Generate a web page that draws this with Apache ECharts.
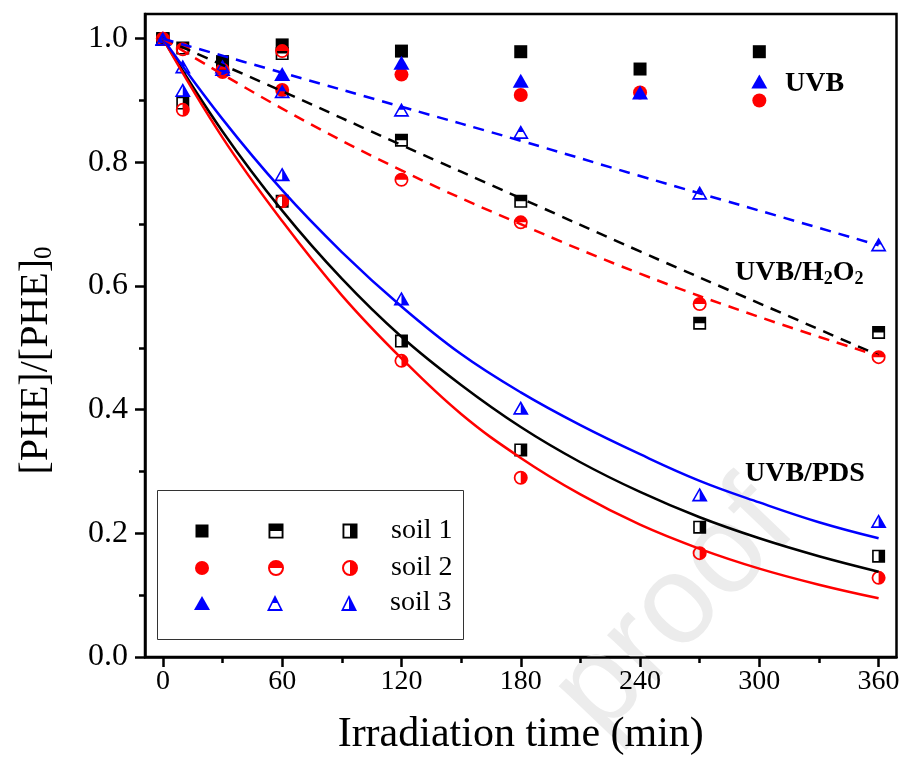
<!DOCTYPE html>
<html><head><meta charset="utf-8">
<script src="https://cdn.jsdelivr.net/npm/echarts@6/dist/echarts.min.js"></script>
<style>html,body{margin:0;padding:0;background:#fff}#c{width:908px;height:766px}</style>
</head><body><div id="c"></div>
<script>
// ---------- data ----------
const xTicks = [0, 60, 120, 180, 240, 300, 360];
const xMinorTicks = [30, 90, 150, 210, 270, 330];
const yTicks = [0, 0.2, 0.4, 0.6, 0.8, 1.0];
const yMinorTicks = [0.1, 0.3, 0.5, 0.7, 0.9];

// UVB only (filled symbols)
const tUVB = [0, 30, 60, 120, 180, 240, 300];
const uvbSoil1 = [1.0, 0.963, 0.990, 0.980, 0.979, 0.951, 0.979];
const uvbSoil2 = [1.0, 0.946, 0.917, 0.942, 0.909, 0.913, 0.900];
const uvbSoil3 = [1.0, 0.951, 0.943, 0.961, 0.932, 0.913, 0.931];

// UVB/H2O2 (top half filled)
const tH2O2 = [0, 10, 30, 60, 120, 180, 270, 360];
const h2o2Soil1 = [1.0, 0.985, 0.960, 0.976, 0.836, 0.737, 0.540, 0.525];
const h2o2Soil2 = [1.0, 0.983, 0.950, 0.980, 0.772, 0.703, 0.571, 0.485];
const h2o2Soil3 = [1.0, 0.955, 0.955, 0.915, 0.885, 0.849, 0.751, 0.667];

// UVB/PDS (right half filled)
const tPDS = [0, 10, 60, 120, 180, 270, 360];
const pdsSoil1 = [1.0, 0.896, 0.737, 0.511, 0.335, 0.210, 0.163];
const pdsSoil2 = [1.0, 0.885, 0.737, 0.479, 0.290, 0.168, 0.128];
const pdsSoil3 = [1.0, 0.917, 0.781, 0.580, 0.403, 0.263, 0.220];

// fitted curves
const tFitPDS = [0, 30, 60, 90, 120, 150, 180, 210, 240, 270, 300, 330, 360];
const fitPDS1 = [1, 0.850, 0.722, 0.612, 0.518, 0.440, 0.372, 0.315, 0.267, 0.226, 0.192, 0.163, 0.138];
const fitPDS2 = [1, 0.840, 0.705, 0.585, 0.483, 0.393, 0.322, 0.263, 0.214, 0.175, 0.143, 0.117, 0.095];
const fitPDS3 = [1, 0.870, 0.755, 0.655, 0.567, 0.490, 0.428, 0.375, 0.328, 0.285, 0.250, 0.218, 0.192];

const tFitH2O2 = [0, 60, 120, 180, 240, 300, 360];
const fitH2O2_1 = [1, 0.915, 0.828, 0.742, 0.656, 0.572, 0.488];
const fitH2O2_2 = [1, 0.887, 0.787, 0.700, 0.620, 0.550, 0.487];
const fitH2O2_3 = [1, 0.945, 0.890, 0.835, 0.778, 0.722, 0.666];

const soilLabels = ['soil 1', 'soil 2', 'soil 3'];

// ---------- styling ----------
const FONT = '"Liberation Serif", "Times New Roman", serif';
const BLACK = '#000000', RED = '#ff0000', BLUE = '#0000ff';
const SYM = {
  sqTop:  'path://M0,0L20,0L20,20L0,20Z M2.5,10L2.5,17.5L17.5,17.5L17.5,10Z',
  sqRight:'path://M0,0L20,0L20,20L0,20Z M2.5,2.5L2.5,17.5L10,17.5L10,2.5Z',
  ciTop:  'path://M10,0A10,10 0 1,1 10,20A10,10 0 1,1 10,0Z M2.5,10A7.5,7.5 0 0,0 17.5,10Z',
  ciRight:'path://M10,0A10,10 0 1,1 10,20A10,10 0 1,1 10,0Z M10,2.5A7.5,7.5 0 0,0 10,17.5Z',
  trTop:  'path://M10,0L20,20L0,20Z M7.24,10L3.49,17.5L16.51,17.5L12.76,10Z',
  trRight:'path://M10,0L20,20L0,20Z M10,4.48L3.49,17.5L10,17.5Z'
};
const pts = (t, v) => t.map((x, i) => [x, v[i]]);

const scatterDefs = [
  // [name, times, values, symbol, size, color, legend col, legend row]
  ['UVB soil 1', tUVB, uvbSoil1, 'rect', [13, 13], BLACK, 0, 0],
  ['UVB soil 2', tUVB, uvbSoil2, 'circle', [14, 14], RED, 0, 1],
  ['UVB soil 3', tUVB, uvbSoil3, 'triangle', [16, 14], BLUE, 0, 2],
  ['H2O2 soil 1', tH2O2, h2o2Soil1, SYM.sqTop, [13, 13], BLACK, 1, 0],
  ['H2O2 soil 2', tH2O2, h2o2Soil2, SYM.ciTop, [14, 14], RED, 1, 1],
  ['H2O2 soil 3', tH2O2, h2o2Soil3, SYM.trTop, [16, 14], BLUE, 1, 2],
  ['PDS soil 1', tPDS, pdsSoil1, SYM.sqRight, [13, 13], BLACK, 2, 0],
  ['PDS soil 2', tPDS, pdsSoil2, SYM.ciRight, [14, 14], RED, 2, 1],
  ['PDS soil 3', tPDS, pdsSoil3, SYM.trRight, [16, 14], BLUE, 2, 2]
];
const lineDefs = [
  [tFitPDS, fitPDS1, BLACK, 'solid'],
  [tFitPDS, fitPDS2, RED, 'solid'],
  [tFitPDS, fitPDS3, BLUE, 'solid'],
  [tFitH2O2, fitH2O2_1, BLACK, [11, 8]],
  [tFitH2O2, fitH2O2_2, RED, [11, 8]],
  [tFitH2O2, fitH2O2_3, BLUE, [11, 8]]
];

const series = [];
lineDefs.forEach((d, i) => series.push({
  type: 'line', name: 'fit' + i, data: pts(d[0], d[1]), smooth: 0.4, symbol: 'none',
  silent: true, z: 3, lineStyle: { color: d[2], width: 2.5, type: d[3] }
}));
scatterDefs.forEach(d => series.push({
  type: 'scatter', name: d[0], data: pts(d[1], d[2]), symbol: d[3], symbolSize: d[4],
  z: 2, itemStyle: { color: d[5], opacity: 1 }
}));

const legendColX = [202, 276, 350];
const legendRowY = [531, 568, 603];
const legends = scatterDefs.map(d => {
  const col = d[6], row = d[7];
  const k = col === 0 ? 1 : 1.15;
  const w = Math.round(d[4][0] * k), h = Math.round(d[4][1] * k);
  return {
    data: [d[0]], left: legendColX[col] - w / 2, top: legendRowY[row] - 15,
    itemWidth: w, itemHeight: h, padding: 0, itemGap: 0, selectedMode: false,
    formatter: () => (col === 2 ? soilLabels[row] : ' '),
    textStyle: { fontFamily: FONT, fontSize: 28, color: '#000', lineHeight: 30,
      padding: col === 2 ? [0, 0, 0, 41 - w / 2 - 5] : 0 }
  };
});

const axisLineStyle = { color: '#000', width: 2.5 };
const option = {
  backgroundColor: '#fff',
  animation: false,
  grid: { left: 145, right: 11.5, top: 14, bottom: 109, show: true, borderColor: '#000', borderWidth: 2.5 },
  xAxis: [
    { type: 'value', min: -9, max: 369, position: 'bottom',
      axisLine: { show: true, onZero: false, lineStyle: axisLineStyle },
      axisTick: { show: true, inside: false, length: 10, lineStyle: axisLineStyle, customValues: xTicks },
      axisLabel: { customValues: xTicks, fontFamily: FONT, fontSize: 28, color: '#000', margin: 11 },
      splitLine: { show: false },
      name: 'Irradiation time (min)', nameLocation: 'middle', nameGap: 57,
      nameTextStyle: { fontFamily: FONT, fontSize: 42, color: '#000' } },
    { type: 'value', min: -9, max: 369, position: 'bottom',
      axisLine: { show: false, onZero: false },
      axisTick: { show: true, inside: false, length: 6, lineStyle: axisLineStyle, customValues: xMinorTicks },
      axisLabel: { show: false }, splitLine: { show: false } }
  ],
  yAxis: [
    { type: 'value', min: 0, max: 1.04, position: 'left',
      axisLine: { show: true, onZero: false, lineStyle: axisLineStyle },
      axisTick: { show: true, inside: false, length: 10, lineStyle: axisLineStyle, customValues: yTicks },
      axisLabel: { customValues: yTicks, formatter: v => v.toFixed(1), fontFamily: FONT, fontSize: 32, color: '#000', margin: 17 },
      splitLine: { show: false },
      name: '[PHE]/[PHE]{s|0}', nameLocation: 'middle', nameGap: 88, nameRotate: 90,
      nameTextStyle: { fontFamily: FONT, fontSize: 40, color: '#000', lineHeight: 42, padding: [0, 50, 0, 0],
        rich: { s: { fontFamily: FONT, fontSize: 25, color: '#000', lineHeight: 14, verticalAlign: 'bottom' } } } },
    { type: 'value', min: 0, max: 1.04, position: 'left',
      axisLine: { show: false, onZero: false },
      axisTick: { show: true, inside: false, length: 6, lineStyle: axisLineStyle, customValues: yMinorTicks },
      axisLabel: { show: false }, splitLine: { show: false } }
  ],
  legend: legends,
  graphic: [
    { type: 'text', x: 774, y: 506, rotation: 0.81, z: 0, silent: true,
      style: { text: 'proof', fontFamily: '"Liberation Sans", Arial, sans-serif', fontSize: 126,
        fill: '#ececec', textAlign: 'right', textVerticalAlign: 'middle' } },
    { type: 'rect', shape: { x: 157.5, y: 490.5, width: 306, height: 149 }, z: 1, silent: true,
      style: { fill: 'rgba(255,255,255,0)', stroke: '#333', lineWidth: 1 } },
    { type: 'text', x: 785, y: 84, z: 5, silent: true,
      style: { text: 'UVB', fontFamily: FONT, fontWeight: 'bold', fontSize: 28, fill: '#000', textVerticalAlign: 'middle' } },
    { type: 'text', x: 735, y: 273, z: 5, silent: true,
      style: { text: 'UVB/H{s|2}O{s|2}', fontFamily: FONT, fontWeight: 'bold', fontSize: 28, fill: '#000',
        lineHeight: 30, textVerticalAlign: 'middle',
        rich: { s: { fontFamily: FONT, fontWeight: 'bold', fontSize: 18, fill: '#000', lineHeight: 10, verticalAlign: 'bottom' } } } },
    { type: 'text', x: 745, y: 474, z: 5, silent: true,
      style: { text: 'UVB/PDS', fontFamily: FONT, fontWeight: 'bold', fontSize: 28, fill: '#000', textVerticalAlign: 'middle' } }
  ],
  series: series
};
const chart = echarts.init(document.getElementById('c'), null, { renderer: 'canvas' });
chart.setOption(option);
</script>
</body></html>
